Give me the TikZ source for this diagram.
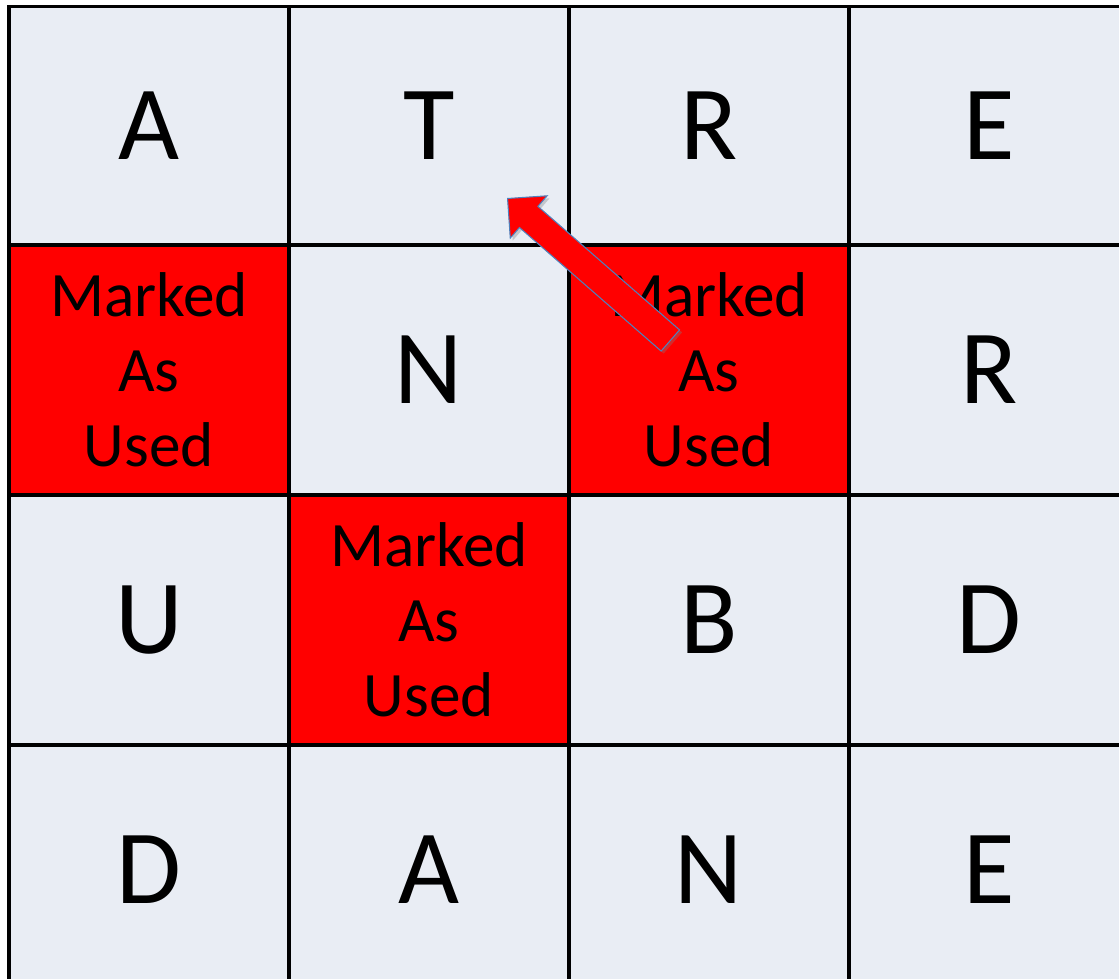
\documentclass[tikz,border=0pt]{standalone}
\usepackage{fontspec}
\setmainfont{Carlito}
\usetikzlibrary{positioning,shapes.arrows,shadows}
\definecolor{cellbg}  {HTML}{E9EDF4}
\definecolor{usedred} {HTML}{FF0000}
\definecolor{edgeblue}{HTML}{4F81BD}
\newcommand{\mau}{Marked\\As\\Used}
\tikzset{
  cell/.style  ={draw=black, line width=2pt, fill=cellbg,
                 minimum width=5.6cm, minimum height=5cm, inner sep=0pt,
                 font=\fontsize{60}{72}\selectfont},
  used/.style  ={cell, fill=usedred, align=center,
                 font=\fontsize{36}{42.7}\selectfont},
  toprow/.style={minimum height=4.77cm},
  blockarrow/.style={single arrow, draw=edgeblue, fill=usedred,
                 line width=0.6pt, inner xsep=0pt, inner ysep=0.27cm,
                 minimum height=4.32cm,
                 single arrow head extend=0.28cm,
                 drop shadow={opacity=0.35, shadow xshift=0.05cm,
                              shadow yshift=-0.05cm}}
}
\begin{document}
\begin{tikzpicture}
\useasboundingbox (0,0) rectangle (22.38,-19.56);
\node[cell,toprow] (r1c1) at (2.98,-2.515)  {A};
\node[cell,toprow] (r1c2) at (8.58,-2.515)  {T};
\node[cell,toprow] (r1c3) at (14.18,-2.515) {R};
\node[cell,toprow] (r1c4) at (19.78,-2.515) {E};
\node[used] (r2c1) at (2.98,-7.4)  {\mau};
\node[cell] (r2c2) at (8.58,-7.4)  {N};
\node[used] (r2c3) at (14.18,-7.4) {\mau};
\node[cell] (r2c4) at (19.78,-7.4) {R};
\node[cell] (r3c1) at (2.98,-12.4)  {U};
\node[used] (r3c2) at (8.58,-12.4)  {\mau};
\node[cell] (r3c3) at (14.18,-12.4) {B};
\node[cell] (r3c4) at (19.78,-12.4) {D};
\node[cell] (r4c1) at (2.98,-17.4)  {D};
\node[cell] (r4c2) at (8.58,-17.4)  {A};
\node[cell] (r4c3) at (14.18,-17.4) {N};
\node[cell] (r4c4) at (19.78,-17.4) {E};

% pointer back up to T
\coordinate (tip) at (10.14,-3.96);
\node[blockarrow, rotate=138.9, anchor=tip] (back) at (tip) {};
\end{tikzpicture}
\end{document}
